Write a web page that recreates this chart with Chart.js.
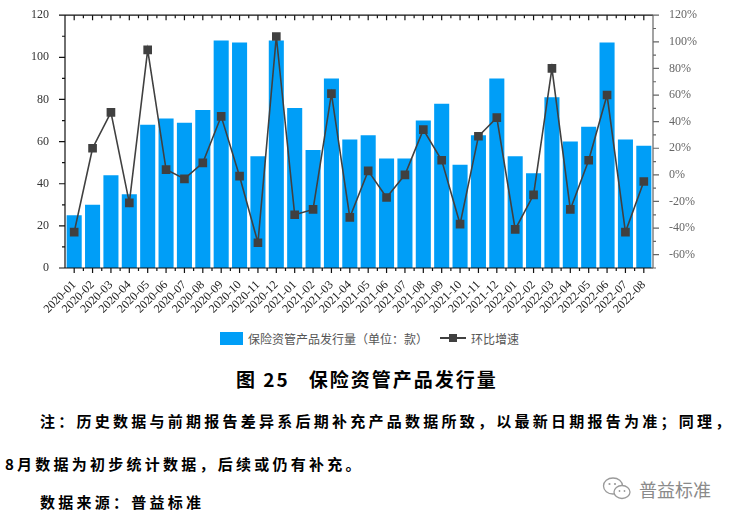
<!DOCTYPE html>
<html>
<head>
<meta charset="utf-8">
<script src="https://cdn.jsdelivr.net/npm/chart.js@4/dist/chart.umd.min.js"></script>
<style>
  html, body { margin: 0; padding: 0; background: #fff; }
  body { width: 733px; height: 519px; position: relative; overflow: hidden; font-family: "Noto Sans CJK SC", sans-serif; }
  #wrap { position: absolute; left: 0; top: 0; width: 733px; height: 322px; }
  .abs { position: absolute; white-space: nowrap; }
  #legend { top: 329px; left: 220px; font-family: "Noto Sans CJK SC", sans-serif; font-size: 12px; color: #555; display: flex; align-items: center; height: 18px; }
  .box { display: inline-block; width: 23px; height: 13px; background: #009EF7; margin-right: 5px; }
  .lineicon { display: inline-block; width: 26px; height: 12px; position: relative; margin: 0 5px 0 12px; }
  .lineicon::before { content: ""; position: absolute; left: 0; right: 0; top: 5px; height: 2px; background: #404040; }
  .lineicon::after { content: ""; position: absolute; left: 9px; top: 2px; width: 8px; height: 8px; background: #404040; }
  #caption { top: 365px; left: 236px; font-size: 19px; font-weight: bold; color: #000; letter-spacing: 2px; }
  .note { font-size: 15px; font-weight: bold; color: #000; letter-spacing: 3.25px; }
  #wm { top: 476px; left: 602px; color: #8a8a8a; font-size: 18px; display: flex; align-items: center; }
</style>
</head>
<body>
<div id="wrap"><canvas id="c" width="733" height="322"></canvas></div>
<div id="legend" class="abs"><span class="box"></span><span>保险资管产品发行量（单位：款）</span><span class="lineicon"></span><span>环比增速</span></div>
<div id="caption" class="abs">图 25&nbsp;&nbsp;&nbsp;保险资管产品发行量</div>
<div class="abs note" style="top:410px; left:40px;">注：历史数据与前期报告差异系后期补充产品数据所致，以最新日期报告为准；同理，</div>
<div class="abs note" style="top:453px; left:5px;">8月数据为初步统计数据，后续或仍有补充。</div>
<div class="abs note" style="top:491px; left:40px;">数据来源：普益标准</div>
<div id="wm" class="abs">
  <svg width="32" height="26" viewBox="0 0 32 26" style="margin-right:5px">
    <ellipse cx="11" cy="10" rx="9.5" ry="8" fill="none" stroke="#9a9a9a" stroke-width="1.3"/>
    <ellipse cx="20" cy="16" rx="8" ry="6.5" fill="#fff" stroke="#9a9a9a" stroke-width="1.3"/>
    <circle cx="7.5" cy="8" r="1.1" fill="#9a9a9a"/><circle cx="13" cy="8" r="1.1" fill="#9a9a9a"/>
    <circle cx="17.5" cy="15" r="0.9" fill="#9a9a9a"/><circle cx="22.5" cy="15" r="0.9" fill="#9a9a9a"/>
  </svg>
  <span>普益标准</span>
</div>
<script>
const categories = ["2020-01","2020-02","2020-03","2020-04","2020-05","2020-06","2020-07","2020-08","2020-09","2020-10","2020-11","2020-12",
  "2021-01","2021-02","2021-03","2021-04","2021-05","2021-06","2021-07","2021-08","2021-09","2021-10","2021-11","2021-12",
  "2022-01","2022-02","2022-03","2022-04","2022-05","2022-06","2022-07","2022-08"];
const issuance = [25,30,44,35,68,71,69,75,108,107,53,108, 76,56,90,61,63,52,52,70,78,49,63,90, 53,45,81,60,67,107,61,58];
const growthPct = [-43,20,47,-21,94,4,-3,9,44,-1,-51,104, -30,-26,61,-32,3,-17,0,34,11,-37,29,43, -41,-15,80,-26,11,60,-43,-5];
const leftTicks = [0,20,40,60,80,100,120];
const rightTicks = [-60,-40,-20,0,20,40,60,80,100,120];

const framePlugin = {
  id: 'frame',
  afterDatasetsDraw(chart) {
    const ctx = chart.ctx, a = chart.chartArea;
    const xs = chart.scales.x, yl = chart.scales.y, yr = chart.scales.y1;
    ctx.save();
    ctx.lineWidth = 1.2;
    ctx.strokeStyle = '#111';
    ctx.beginPath();
    ctx.moveTo(a.left, a.top); ctx.lineTo(a.right, a.top);
    ctx.moveTo(a.left, a.bottom); ctx.lineTo(a.right, a.bottom);
    ctx.moveTo(a.left, a.top); ctx.lineTo(a.left, a.bottom);
    ctx.stroke();
    const step = xs.getPixelForValue(1) - xs.getPixelForValue(0);
    ctx.beginPath();
    for (let i = 0; i < categories.length; i++) {
      const cx = xs.getPixelForValue(i);
      ctx.moveTo(cx, a.top); ctx.lineTo(cx, a.top + 5);
      ctx.moveTo(cx, a.bottom); ctx.lineTo(cx, a.bottom + 5);
      const bx = cx - step / 2;
      if (i > 0) {
        ctx.moveTo(bx, a.top); ctx.lineTo(bx, a.top + 3);
        ctx.moveTo(bx, a.bottom); ctx.lineTo(bx, a.bottom + 3);
      }
    }
    ctx.stroke();
    ctx.beginPath();
    for (let v = yl.min; v <= yl.max; v += 10) {
      const y = yl.getPixelForValue(v);
      const len = (v % 20 === 0) ? 6 : 3;
      ctx.moveTo(a.left, y); ctx.lineTo(a.left - len, y);
    }
    ctx.stroke();
    ctx.strokeStyle = '#666';
    ctx.beginPath();
    ctx.moveTo(a.right, a.top); ctx.lineTo(a.right, a.bottom);
    for (let v = yr.min; v <= yr.max; v += 10) {
      const y = yr.getPixelForValue(v);
      const len = (v % 20 === 0) ? 6 : 3;
      ctx.moveTo(a.right, y); ctx.lineTo(a.right + len, y);
    }
    ctx.stroke();
    ctx.restore();
  }
};

new Chart(document.getElementById('c'), {
  data: {
    labels: categories,
    datasets: [
      {
        type: 'line', label: '环比增速', data: growthPct, yAxisID: 'y1', order: 1,
        borderColor: '#404040', borderWidth: 1.6, pointStyle: 'rect', pointRadius: 5,
        pointBackgroundColor: '#404040', pointBorderColor: '#404040', tension: 0
      },
      {
        type: 'bar', label: '保险资管产品发行量（单位：款）', data: issuance, yAxisID: 'y', order: 2,
        backgroundColor: '#009EF7', borderWidth: 0, barPercentage: 0.82, categoryPercentage: 1.0
      }
    ]
  },
  options: {
    responsive: false, animation: false,
    layout: { padding: { top: 14, bottom: 0, left: 0, right: 0 } },
    plugins: { legend: { display: false }, tooltip: { enabled: false } },
    scales: {
      x: {
        grid: { display: false }, border: { display: false },
        ticks: { minRotation: 45, maxRotation: 45, autoSkip: false, padding: 2, color: '#222',
          font: { family: 'Liberation Serif', size: 12 } },
        afterFit(s) { s.height = 54; }
      },
      y: {
        position: 'left', min: 0, max: 120,
        grid: { display: false }, border: { display: false },
        afterBuildTicks(s) { s.ticks = leftTicks.map(v => ({ value: v })); },
        ticks: { color: '#333', padding: 8, font: { family: 'Liberation Serif', size: 12 } },
        afterFit(s) { s.width = 65; }
      },
      y1: {
        position: 'right', min: -70, max: 120,
        grid: { display: false }, border: { display: false },
        afterBuildTicks(s) { s.ticks = rightTicks.map(v => ({ value: v })); },
        ticks: { color: '#666', padding: 8, font: { family: 'Liberation Serif', size: 12 },
          callback: v => v + '%' },
        afterFit(s) { s.width = 80; }
      }
    }
  },
  plugins: [framePlugin]
});
</script>
</body>
</html>
